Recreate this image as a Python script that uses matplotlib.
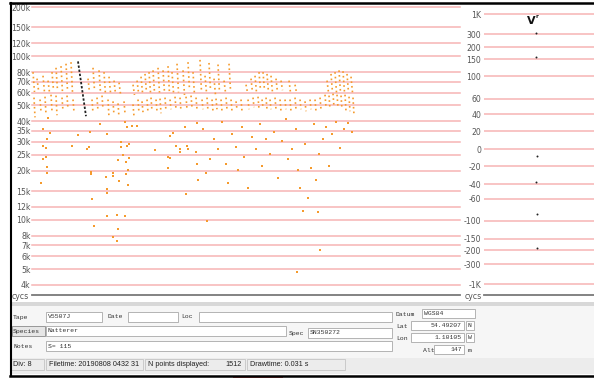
import numpy as np
import matplotlib
matplotlib.use("Agg")
import matplotlib.pyplot as plt
from matplotlib.patches import Rectangle

# ---- left panel: frequency axis (Hz) ----
freq_ticks = [200e3, 150e3, 120e3, 100e3, 80e3, 70e3, 60e3, 50e3, 40e3, 35e3, 30e3,
              25e3, 20e3, 15e3, 12e3, 10e3, 8e3, 7e3, 6e3, 5e3, 4e3]
freq_labels = ["200k", "150k", "120k", "100k", "80k", "70k", "60k", "50k", "40k", "35k", "30k",
               "25k", "20k", "15k", "12k", "10k", "8k", "7k", "6k", "5k", "4k"]

# upper part of each call (time column, top kHz, bottom kHz)
upper_x = [33, 37, 43, 48, 52, 56, 61, 66, 71, 88, 93, 99, 104, 109, 114, 119,
           133, 137, 141, 145, 149, 153, 158, 163, 168, 172, 177, 183, 188, 193, 200, 205,
           209, 214, 218, 224, 229,
           246, 251, 255, 259, 263, 267, 271, 276, 281, 289, 295,
           327, 331, 335, 339, 343, 347, 351]
upper_top = [80, 73, 76, 71, 80, 85, 87, 90, 92, 73, 85, 82, 80, 75, 71, 69,
             67, 71, 75, 78, 80, 82, 85, 82, 87, 80, 90, 82, 92, 80, 95, 76,
             91, 73, 89, 71, 90,
             67, 73, 76, 80, 80, 78, 76, 73, 71, 71, 67,
             71, 78, 80, 82, 81, 78, 75]
upper_bot = [60.5, 62, 60, 60, 62, 62, 60, 62, 60, 60, 62, 60, 58, 60, 59, 59,
             58, 60, 60, 60, 60, 60, 60, 60, 59, 60, 60, 58, 62, 58, 60, 60,
             62, 58, 60, 60, 62,
             60, 60, 60, 62, 62, 60, 60, 60, 62, 60, 60,
             60, 60, 60, 60, 60, 60, 60]

# lower part of the calls
lower_x = [34, 40, 45, 51, 56, 62, 67, 73, 92, 97, 102, 108, 113, 118, 124,
           133, 138, 142, 147, 151, 156, 160, 165, 170, 175, 180, 186, 191, 196, 202, 207,
           212, 216, 221, 226, 231, 236, 241,
           248, 253, 258, 262, 266, 270, 275, 280, 285, 290, 295, 300, 305, 310, 315, 320,
           325, 329, 333, 337, 341, 345, 349, 353]
lower_top = [55.9, 54.4, 56.6, 58.2, 57.5, 55.9, 57.5, 54.4, 54.4, 55.9, 57.5, 54.4, 53, 51.5, 53,
             50.8, 54.4, 53, 54.4, 55.9, 54.4, 55.1, 55.9, 54.4, 56.6, 55.9, 56.6, 57.5, 55.9, 54.4, 55.9,
             54.4, 55.1, 54.4, 55.9, 54.4, 53, 54.4,
             54.4, 55.9, 56.6, 54.4, 55.9, 54.4, 55.9, 54.4, 54.4, 54.4, 55.9, 54.4, 53, 54.4, 54.4, 55.9,
             58.2, 57.5, 59.1, 58.2, 57.5, 58.2, 56.6, 55.9]
lower_bot = [42.3, 46.1, 44.2, 46.1, 43.6, 46.1, 47.4, 45.5, 44.8, 46.1, 47.4, 42.3, 43.6, 42.3, 44.8,
             42.9, 44.8, 45.5, 45.5, 46.1, 46.1, 44.8, 46.1, 47.4, 47.4, 46.1, 47.4, 48.8, 47.4, 47.4, 46.1,
             46.1, 47.4, 46.1, 47.4, 46.1, 47.4, 46.1,
             47.4, 48.8, 47.4, 48.8, 47.4, 47.4, 47.4, 46.1, 47.4, 46.1, 47.4, 47.4, 46.1, 47.4, 46.1, 47.4,
             48.8, 47.4, 48.8, 48.8, 47.4, 46.1, 46.1, 43.6]

# the selected (black) call
sel_x = [78, 86]
sel_f = [93, 43]

# loose points (time column, kHz)
dots_x = [43, 46, 43, 46, 47, 47, 41, 72, 87, 89, 91, 91, 92, 106, 113, 113, 107, 107, 118, 119,
          121, 123, 126, 126, 128, 128, 127, 129, 129, 121, 155, 168, 168, 170, 176, 180, 180, 186,
          187, 188, 196, 197, 198, 107, 117, 125, 94, 118, 113, 117,
          48, 43, 50, 47, 100, 90, 78, 107, 127, 125, 132, 137, 173, 170, 185, 197,
          203, 206, 210, 214, 218, 222, 226, 228, 232, 236, 238, 242, 244, 248, 252, 256, 260, 262,
          266, 270, 274, 278, 282, 286, 288, 292, 296, 298, 300, 303, 305, 308, 311, 314, 316, 319,
          320, 323, 326, 329, 332, 336, 340, 344, 348, 352, 297, 207, 318]
dots_f = [28.3, 27.3, 23.7, 24.2, 21.0, 19.3, 16.8, 28.3, 27.0, 27.9, 19.6, 19.0, 13.4, 18.3, 19.2,
          18.5, 15.4, 14.6, 23.1, 17.3, 27.9, 24.9, 22.5, 19.0, 20.3, 16.4, 28.3, 29.1, 23.9, 30.1,
          26.8, 20.6, 24.2, 23.9, 28.3, 27.2, 26.1, 14.3, 28.3, 27.2, 26.1, 22.1, 17.5, 10.5, 10.7,
          10.5, 9.2, 8.8, 7.9, 7.4,
          41.7, 35.8, 34.1, 31.2, 38.4, 34.6, 32.8, 33.4, 36.9, 39.8, 37.5, 37.5, 34.1, 32.4, 36.9, 39.3,
          35.8, 19.3, 23.7, 31.2, 27.2, 39.8, 22.1, 16.8, 33.4, 27.9, 20.3, 36.9, 24.2, 15.6, 32.0,
          27.2, 38.4, 21.3, 31.2, 25.4, 34.6, 18.0, 30.5, 41.1, 23.7, 27.2, 35.8, 20.3, 15.6, 11.4,
          29.1, 13.6, 20.6, 38.4, 17.5, 25.4, 6.5, 31.2, 36.9, 21.3, 33.4, 39.8, 27.6, 35.8, 39.0,
          34.6, 4.8, 9.9, 11.1]

# ---- right panel: slope axis ----
slope_ticks = [1000, 300, 200, 150, 100, 60, 40, 20, 0, -20, -40, -60, -100, -150, -200, -300, -1000]
slope_labels = ["1K", "300", "200", "150", "100", "60", "40", "20", "0", "-20", "-40", "-60",
                "-100", "-150", "-200", "-300", "-1K"]
slope_x = [0.47, 0.47, 0.48, 0.47, 0.48, 0.48]
slope_v = [350, 158, -8, -38, -87, -191]

# display positions of the slope ticks (axis is not linear)
slope_pos_vals = [-3000, -1000, -300, -200, -150, -100, -60, -40, -20, 0, 20, 40, 60, 100, 150, 200, 300, 1000, 3000]
slope_pos = [306, 284, 264, 250, 239, 221, 199, 184, 166, 149, 131, 114, 99, 76, 59, 47, 34, 14, -8]

orange = "#f59a2c"
grid_c = "#f6b4b4"
lab_c = "#555555"

W, H = 594, 378
fig = plt.figure(figsize=(W / 100, H / 100), dpi=100, facecolor="white")


def box(px0, py0, px1, py1):
    return [px0 / W, 1 - py1 / H, (px1 - px0) / W, (py1 - py0) / H]


# left panel
ax = fig.add_axes(box(32, 7, 460, 295))
ax.set_yscale("log")
ax.set_xlim(32, 460)
ax.set_ylim(3472, 200e3)
for v in freq_ticks:
    ax.axhline(v, color=grid_c, lw=1.1, clip_on=False, zorder=1)
ax.set_yticks(freq_ticks)
ax.set_yticklabels(freq_labels)
ax.yaxis.set_minor_locator(matplotlib.ticker.NullLocator())
ax.tick_params(axis="y", length=0, pad=1, labelsize=5.6, labelcolor=lab_c)
ax.set_xticks([])
for s in ["top", "left", "right"]:
    ax.spines[s].set_visible(False)
ax.spines["bottom"].set_color("#7a7a7a")
ax.spines["bottom"].set_linewidth(1.3)
ax.text(-20 / 428, -0.004, "cycs", transform=ax.transAxes, ha="left", va="center",
        fontsize=5.6, color=lab_c)

for x, t, b in zip(upper_x, upper_top, upper_bot):
    ax.plot([x, x + 1.5], [t * 1000, b * 1000], color=orange, lw=1.2,
            ls=(0, (1, 1.8)), dash_capstyle="butt", zorder=3)
for x, t, b in zip(lower_x, lower_top, lower_bot):
    ax.plot([x, x + 1.0], [t * 1000, b * 1000], color=orange, lw=1.2,
            ls=(0, (1, 1.8)), dash_capstyle="butt", zorder=3)
ax.scatter(dots_x, np.array(dots_f) * 1000, s=2.5, marker="s", color=orange, lw=0, zorder=3)
ax.plot(sel_x, np.array(sel_f) * 1000, color="#222222", lw=1.3, ls=(0, (1.3, 1.0)), zorder=4)

# right panel
def fwd(v):
    return -np.interp(v, slope_pos_vals, slope_pos)


def inv(t):
    return np.interp(-t, slope_pos[::-1], slope_pos_vals[::-1])


ax2 = fig.add_axes(box(484, 3, 594, 295))
ax2.set_yscale("function", functions=(fwd, inv))
ax2.set_ylim(-2000, 2000)
ax2.set_xlim(0, 1)
for v in slope_ticks:
    ax2.axhline(v, color=grid_c, lw=1.1, zorder=1)
ax2.set_yticks(slope_ticks)
ax2.set_yticklabels(slope_labels)
ax2.yaxis.set_minor_locator(matplotlib.ticker.NullLocator())
ax2.tick_params(axis="y", length=0, pad=2, labelsize=5.6, labelcolor=lab_c)
ax2.set_xticks([])
for s in ["top", "left", "right"]:
    ax2.spines[s].set_visible(False)
ax2.spines["bottom"].set_color("#7a7a7a")
ax2.spines["bottom"].set_linewidth(1.3)
ax2.text(-0.02, -0.004, "cycs", transform=ax2.transAxes, ha="right", va="center",
         fontsize=5.6, color=lab_c)
ax2.scatter(slope_x, slope_v, s=2, color="#222222", lw=0, zorder=3)
ax2.text(0.43, 0.94, "V", transform=ax2.transAxes, ha="center", va="center",
         fontsize=8, fontweight="bold", color="#111111")
ax2.text(0.485, 0.955, "r", transform=ax2.transAxes, ha="center", va="center",
         fontsize=4, fontweight="bold", color="#111111")

# overlay: frame and info panel
ov = fig.add_axes([0, 0, 1, 1], zorder=10)
ov.set_xlim(0, W)
ov.set_ylim(H, 0)
ov.axis("off")

ov.add_patch(Rectangle((10, 302), W - 10, 4, color="#d8d8d8", lw=0))
ov.add_patch(Rectangle((10, 306), W - 10, 52, color="#f6f6f6", lw=0))
ov.add_patch(Rectangle((10, 358), W - 10, 16, color="#ececec", lw=0))
ov.plot([10, W], [3, 3], color="black", lw=1.8)
ov.plot([10.5, 10.5], [3, 376], color="black", lw=1.5)
ov.plot([10, W], [375.5, 375.5], color="black", lw=1.8)
ov.add_patch(Rectangle((233, 376), 50, 2, color="#e06060", lw=0))

mono = dict(family="Liberation Mono", fontsize=4.6, color="#333333", va="center")
sans = dict(family="Liberation Sans", fontsize=5.2, color="#222222", va="center")


def field(x0, y0, w, h, txt="", align="left"):
    ov.add_patch(Rectangle((x0, y0), w, h, facecolor="white", edgecolor="#a8a8a8", lw=0.6))
    if txt:
        if align == "left":
            ov.text(x0 + 2, y0 + h / 2, txt, ha="left", **mono)
        else:
            ov.text(x0 + w - 2, y0 + h / 2, txt, ha="right", **mono)


ov.text(13, 317, "Tape", ha="left", **mono)
field(46, 312, 56, 10, "V5507J")
ov.text(107, 317, "Date", ha="left", **mono)
field(128, 312, 50, 10)
ov.text(181, 317, "Loc", ha="left", **mono)
field(199, 312, 193, 10)

ov.add_patch(Rectangle((12, 326), 33, 10, facecolor="#e6e6e6", edgecolor="#8a8a8a", lw=0.6))
ov.text(13, 331, "Species", ha="left", **mono)
field(46, 326, 240, 10, "Natterer")
ov.text(289, 333, "Spec", ha="left", **mono)
field(308, 328, 84, 10, "SN350272")

ov.text(13, 346, "Notes", ha="left", **mono)
field(46, 341, 346, 10, "S= 115")

ov.text(396, 314, "Datum", ha="left", **mono)
field(422, 309, 53, 9, "WGS84")
ov.text(396, 326, "Lat", ha="left", **mono)
field(411, 321, 53, 9, "54.49207", align="right")
field(466, 321, 8, 9, "N")
ov.text(396, 338, "Lon", ha="left", **mono)
field(411, 333, 53, 9, "1.10105", align="right")
field(466, 333, 8, 9, "W")
ov.text(423, 350, "Alt", ha="left", **mono)
field(434, 345, 30, 9, "147", align="right")
ov.text(468, 350, "m", ha="left", **mono)

for x0, w in [(11, 33), (46, 97), (145, 100), (247, 98)]:
    ov.add_patch(Rectangle((x0, 359), w, 11, facecolor="none", edgecolor="#c4c4c4", lw=0.6))
ov.text(13, 364.5, "Div: 8", ha="left", **sans)
ov.text(49, 364.5, "Filetime: 20190808 0432 31", ha="left", **sans)
ov.text(148, 364.5, "N points displayed:", ha="left", **sans)
ov.text(242, 364.5, "1512", ha="right", **sans)
ov.text(250, 364.5, "Drawtime: 0.031 s", ha="left", **sans)

fig.savefig("out.png", dpi=100, facecolor="white")
